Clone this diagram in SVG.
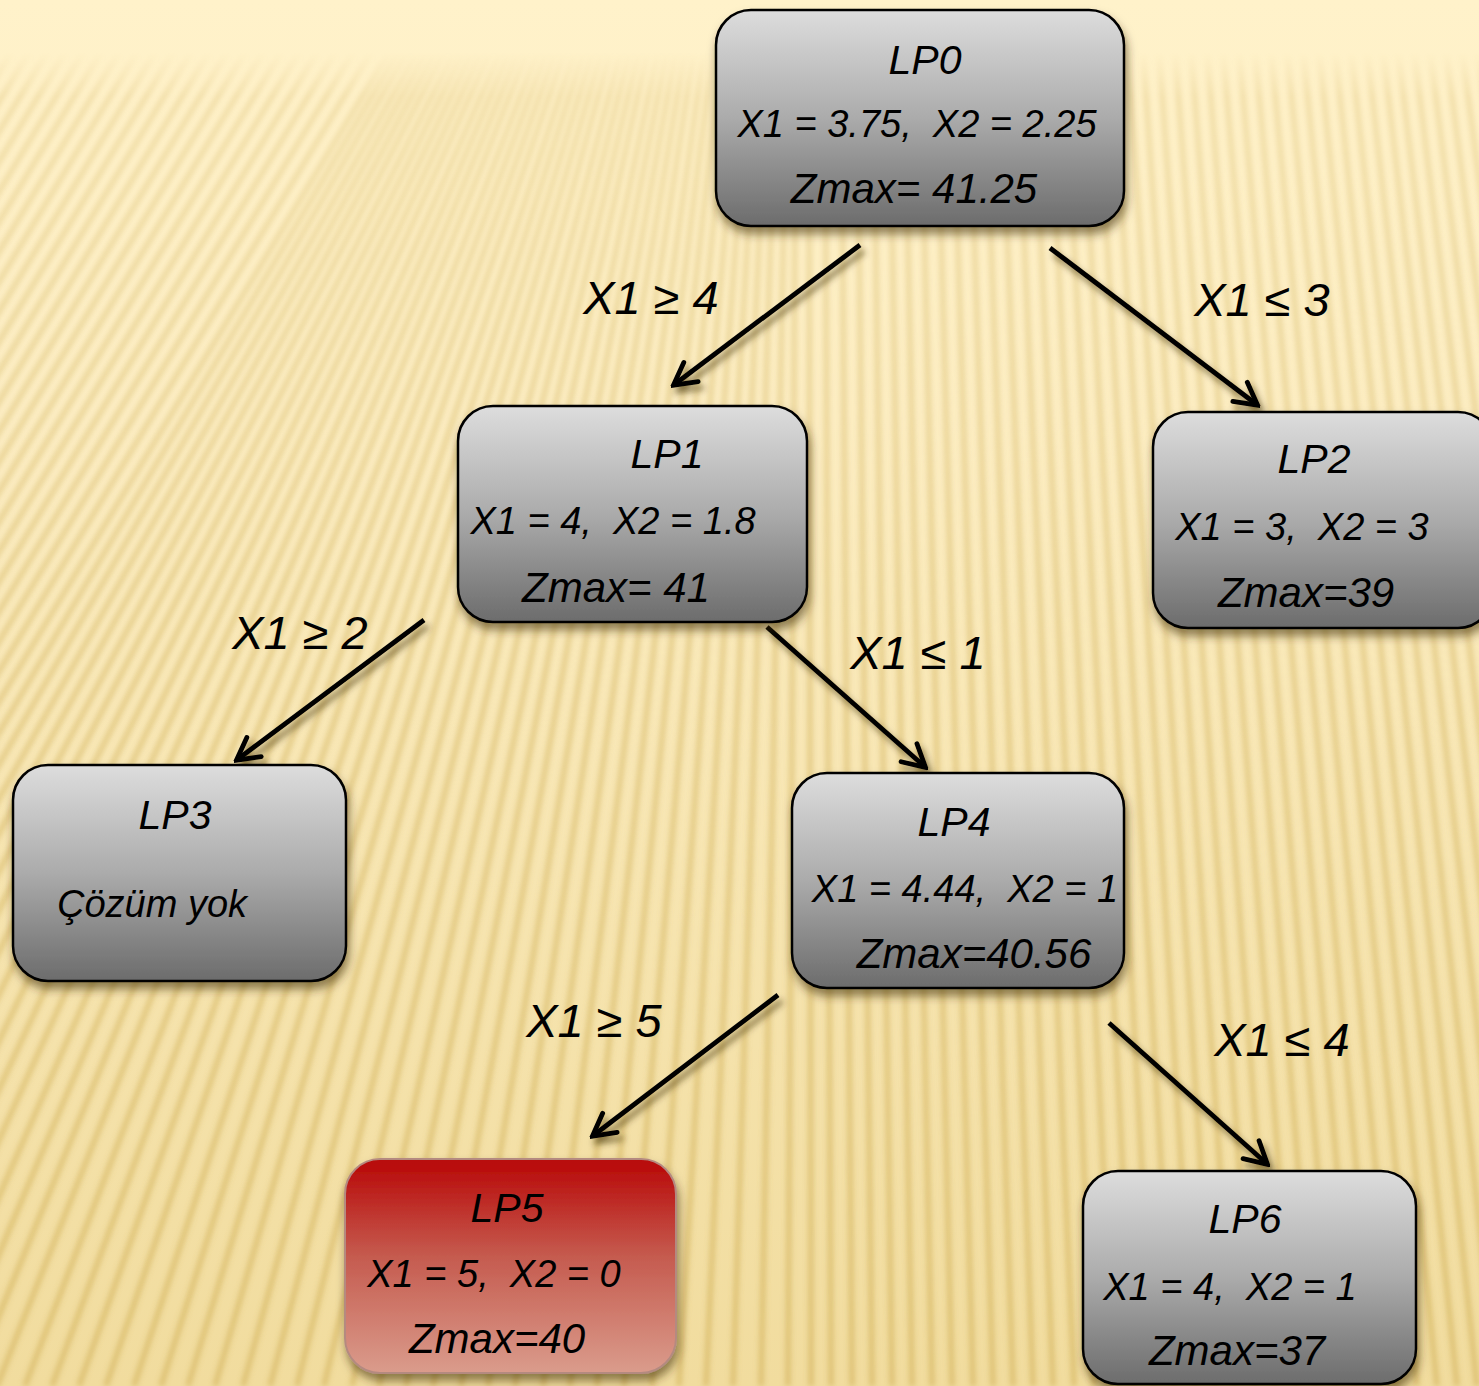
<svg xmlns="http://www.w3.org/2000/svg" width="1479" height="1386" viewBox="0 0 1479 1386">
<style>
text{font-family:"Liberation Sans",Arial,sans-serif;font-style:italic;fill:#000;white-space:pre;text-anchor:middle}
.t{font-size:41px}
.v{font-size:38px}
.z{font-size:42px}
.lbl{font-size:47px}
.box{stroke:#000;stroke-width:2.5;fill:url(#gray)}
.red{stroke:#B48A80;stroke-width:2;fill:url(#redg)}
.arr{stroke:#000;stroke-width:4.8;fill:none;marker-end:url(#ah)}
</style>
<defs>
<linearGradient id="bg" x1="0" y1="0" x2="0" y2="1">
<stop offset="0" stop-color="#FFF2CA"/>
<stop offset="0.3" stop-color="#FCEDC2"/>
<stop offset="1" stop-color="#F1DC9E"/>
</linearGradient>
<linearGradient id="gray" x1="0" y1="0" x2="0" y2="1">
<stop offset="0" stop-color="#DDDDDD"/>
<stop offset="0.5" stop-color="#ABABAB"/>
<stop offset="1" stop-color="#6C6C6C"/>
</linearGradient>
<linearGradient id="redg" x1="0" y1="0" x2="0" y2="1">
<stop offset="0" stop-color="#B80606"/>
<stop offset="0.45" stop-color="#C55A4E"/>
<stop offset="1" stop-color="#DA9C8C"/>
</linearGradient>
<linearGradient id="fadeGrad" gradientUnits="userSpaceOnUse" x1="0" y1="0" x2="0" y2="1386">
<stop offset="0.038" stop-color="#000"/>
<stop offset="0.07" stop-color="#777"/>
<stop offset="0.5" stop-color="#ccc"/>
<stop offset="1" stop-color="#fff"/>
</linearGradient>
<mask id="fade" maskUnits="userSpaceOnUse" x="0" y="0" width="1479" height="1386">
<rect width="1479" height="1386" fill="url(#fadeGrad)"/>
</mask>
<filter id="soft" x="-5%" y="-5%" width="110%" height="110%">
<feGaussianBlur stdDeviation="2.5"/>
</filter>
<filter id="nshadow" x="-10%" y="-10%" width="125%" height="130%">
<feDropShadow dx="2" dy="7" stdDeviation="5" flood-color="#3A2A00" flood-opacity="0.55"/>
</filter>
<filter id="ashadow" x="-20%" y="-20%" width="150%" height="150%">
<feDropShadow dx="4" dy="6" stdDeviation="3" flood-color="#3A2A00" flood-opacity="0.6"/>
</filter>
<marker id="ah" viewBox="0 0 30 30" markerWidth="30" markerHeight="30" refX="25" refY="15" orient="auto" markerUnits="userSpaceOnUse">
<path d="M5,3 L27,15 L5,27" fill="none" stroke="#000" stroke-width="4.8" stroke-linecap="round"/>
</marker>
</defs>

<g id="background">
<rect width="1479" height="1386" fill="url(#bg)"/>
<g mask="url(#fade)">
<path filter="url(#soft)" stroke="#CFAE55" stroke-opacity="0.55" stroke-width="6" fill="none" d="
M12,50L-790,1386 M30,50L-772,1386 M48,50L-754,1386 M66,50L-736,1386 M84,50L-718,1386 M102,50L-700,1386 M120,50L-682,1386 M138,50L-664,1386 M156,50L-646,1386 M174,50L-628,1386 M192,50L-610,1386 M210,50L-592,1386 M228,50L-574,1386 M246,50L-556,1386 M264,50L-538,1386 M282,50L-520,1386 M300,50L-502,1386 M318,50L-484,1386 M336,50L-466,1386 M354,50L-448,1386 M372,50L-430,1386 M390,50L-412,1386
M399,50L-384,1386 M408,50L-357,1386 M418,50L-330,1386 M427,50L-303,1386 M436,50L-275,1386 M445,50L-248,1386 M455,50L-221,1386 M464,50L-194,1386 M473,50L-166,1386 M482,50L-139,1386 M491,50L-112,1386 M501,50L-84,1386 M510,50L-57,1386 M519,50L-30,1386 M528,50L-3,1386 M538,50L25,1386 M547,50L52,1386 M556,50L79,1386 M565,50L106,1386 M575,50L134,1386 M584,50L161,1386 M593,50L188,1386 M602,50L215,1386 M611,50L243,1386 M621,50L270,1386 M630,50L297,1386 M639,50L324,1386 M648,50L352,1386 M658,50L379,1386 M667,50L406,1386 M676,50L433,1386 M685,50L461,1386 M694,50L488,1386 M704,50L515,1386 M713,50L543,1386 M722,50L570,1386 M731,50L597,1386 M741,50L624,1386 M750,50L652,1386 M759,50L679,1386 M768,50L706,1386 M777,50L733,1386 M787,50L761,1386 M796,50L788,1386
M809,50L811,1386 M825,50L831,1386 M841,50L852,1386 M857,50L872,1386 M873,50L892,1386 M889,50L912,1386 M904,50L932,1386 M920,50L952,1386 M936,50L973,1386 M952,50L993,1386 M968,50L1013,1386 M984,50L1033,1386 M1000,50L1053,1386 M1016,50L1074,1386 M1032,50L1094,1386 M1048,50L1114,1386 M1064,50L1134,1386 M1080,50L1154,1386 M1096,50L1174,1386 M1112,50L1195,1386 M1128,50L1215,1386 M1143,50L1235,1386 M1159,50L1255,1386 M1175,50L1275,1386 M1191,50L1296,1386 M1207,50L1316,1386 M1223,50L1336,1386 M1239,50L1356,1386 M1255,50L1376,1386 M1271,50L1396,1386 M1287,50L1417,1386 M1303,50L1437,1386 M1319,50L1457,1386 M1335,50L1477,1386 M1351,50L1497,1386 M1367,50L1518,1386 M1383,50L1538,1386 M1398,50L1558,1386 M1414,50L1578,1386 M1430,50L1598,1386 M1446,50L1618,1386 M1462,50L1639,1386 M1478,50L1659,1386"/>
</g>
</g>

<g id="connectors" filter="url(#ashadow)">
<line class="arr" x1="860" y1="245" x2="675" y2="384"/>
<line class="arr" x1="1050" y1="248" x2="1256" y2="404"/>
<line class="arr" x1="424" y1="620" x2="238" y2="759"/>
<line class="arr" x1="767" y1="627" x2="924" y2="766"/>
<line class="arr" x1="778" y1="995" x2="594" y2="1135"/>
<line class="arr" x1="1109" y1="1023" x2="1266" y2="1163"/>
</g>

<g id="labels">
<text class="lbl" x="651" y="314">X1 ≥ 4</text>
<text class="lbl" x="1262" y="316">X1 ≤ 3</text>
<text class="lbl" x="300" y="649">X1 ≥ 2</text>
<text class="lbl" x="918" y="669">X1 ≤ 1</text>
<text class="lbl" x="594" y="1037">X1 ≥ 5</text>
<text class="lbl" x="1282" y="1056">X1 ≤ 4</text>
</g>

<g id="LP0">
<rect class="box" x="716" y="10" width="408" height="216" rx="35" filter="url(#nshadow)"/>
<text class="t" x="925" y="74">LP0</text>
<text class="v" x="917" y="137">X1 = 3.75,  X2 = 2.25</text>
<text class="z" x="914" y="203">Zmax= 41.25</text>
</g>

<g id="LP1">
<rect class="box" x="458" y="406" width="349" height="216" rx="35" filter="url(#nshadow)"/>
<text class="t" x="667" y="468">LP1</text>
<text class="v" x="613" y="534">X1 = 4,  X2 = 1.8</text>
<text class="z" x="616" y="602">Zmax= 41</text>
</g>

<g id="LP2">
<rect class="box" x="1153" y="412" width="340" height="216" rx="35" filter="url(#nshadow)"/>
<text class="t" x="1314" y="473">LP2</text>
<text class="v" x="1302" y="540">X1 = 3,  X2 = 3</text>
<text class="z" x="1306" y="607">Zmax=39</text>
</g>

<g id="LP3">
<rect class="box" x="13" y="765" width="333" height="216" rx="35" filter="url(#nshadow)"/>
<text class="t" x="175" y="829">LP3</text>
<text class="v" x="152" y="917">Çözüm yok</text>
</g>

<g id="LP4">
<rect class="box" x="792" y="773" width="332" height="215" rx="35" filter="url(#nshadow)"/>
<text class="t" x="954" y="836">LP4</text>
<text class="v" x="965" y="902">X1 = 4.44,  X2 = 1</text>
<text class="z" x="974" y="968">Zmax=40.56</text>
</g>

<g id="LP5">
<rect class="red" x="345" y="1159" width="331" height="214" rx="35" filter="url(#nshadow)"/>
<text class="t" x="507" y="1222">LP5</text>
<text class="v" x="494" y="1287">X1 = 5,  X2 = 0</text>
<text class="z" x="497" y="1353">Zmax=40</text>
</g>

<g id="LP6">
<rect class="box" x="1083" y="1171" width="333" height="213" rx="35" filter="url(#nshadow)"/>
<text class="t" x="1245" y="1233">LP6</text>
<text class="v" x="1230" y="1300">X1 = 4,  X2 = 1</text>
<text class="z" x="1237" y="1365">Zmax=37</text>
</g>
</svg>
